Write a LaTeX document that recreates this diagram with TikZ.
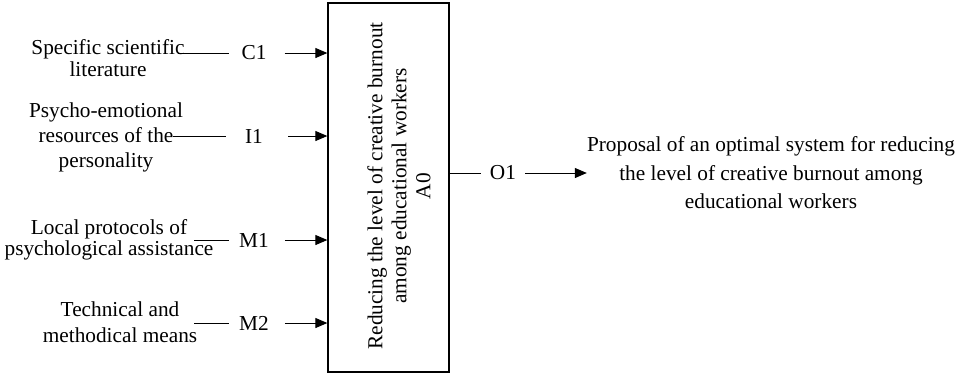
\documentclass[tikz,border=0pt]{standalone}
\usepackage{fontspec}
\setmainfont{Liberation Serif}
\usetikzlibrary{arrows.meta}
\begin{document}
\begin{tikzpicture}[x=1pt,y=-1pt,
  txt/.style={align=center,inner sep=0pt,font=\fontsize{21.3}{23}\selectfont},
  lbl/.style={inner sep=0pt,font=\fontsize{21.3}{23}\selectfont},
  conn/.style={line width=1pt},
  arr/.style={line width=1pt,-{Triangle[length=12pt,width=10pt]}},
  fbox/.style={draw,line width=1.3pt,minimum width=121pt,minimum height=369pt,inner sep=0pt}]
\useasboundingbox (0,0) rectangle (957,376);
% main box
\node[fbox] (box) at (388.5,187.5) {};
\node[txt,rotate=90,font=\fontsize{21.3}{24}\selectfont] (boxt) at (399,186)
  {Reducing the level of creative burnout\\among educational workers\\A0};
% left texts
\node[txt,font=\fontsize{21.3}{22}\selectfont] (c1t) at (108,58) {Specific scientific\\literature};
\node[txt,font=\fontsize{21.3}{25}\selectfont] (i1t) at (106,137) {Psycho-emotional\\resources of the\\personality};
\node[txt,font=\fontsize{21.3}{21}\selectfont] (m1t) at (109,240) {Local protocols of\\psychological assistance};
\node[txt,font=\fontsize{21.3}{26}\selectfont] (m2t) at (120,322) {Technical and\\methodical means};
% labels
\node[lbl] (c1) at (254,53) {C1};
\node[lbl] (i1) at (254,136) {I1};
\node[lbl] (m1) at (254,240) {M1};
\node[lbl] (m2) at (254,323) {M2};
\node[lbl] (o1) at (503,173) {O1};
% output text
\node[txt,font=\fontsize{21.3}{28.5}\selectfont] (out) at (771,173)
  {Proposal of an optimal system for reducing\\the level of creative burnout among\\educational workers};
% line starts
\coordinate (c1s) at (178,53);
\coordinate (i1s) at (173,136);
\coordinate (m1s) at (194,240);
\coordinate (m2s) at (194,323);
% connectors
\draw[conn] (c1s) -- ([xshift=-12pt]c1.west);
\draw[conn] (i1s) -- ([xshift=-19pt]i1.west);
\draw[conn] (m1s) -- ([xshift=-10pt]m1.west);
\draw[conn] (m2s) -- ([xshift=-10pt]m2.west);
\draw[arr] ([xshift=18pt]c1.east) -- (box.west |- c1);
\draw[arr] ([xshift=25pt]i1.east) -- (box.west |- i1);
\draw[arr] ([xshift=16pt]m1.east) -- (box.west |- m1);
\draw[arr] ([xshift=16pt]m2.east) -- (box.west |- m2);
\draw[conn] (box.east |- o1) -- ([xshift=-9pt]o1.west);
\draw[arr] ([xshift=9pt]o1.east) -- (out.west);
\end{tikzpicture}
\end{document}
